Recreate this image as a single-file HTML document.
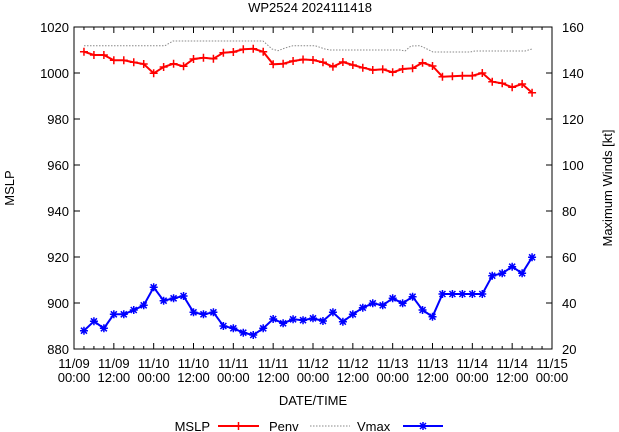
<!DOCTYPE html>
<html><head><meta charset="utf-8"><style>
html,body{margin:0;padding:0;background:#fff;}
svg{display:block;font-family:"Liberation Sans",sans-serif;font-size:13px;}
</style></head><body>
<svg id="s" width="619" height="432" viewBox="0 0 619 432" xmlns="http://www.w3.org/2000/svg">
<rect width="619" height="432" fill="#fff"/>
<text x="310" y="12" text-anchor="middle">WP2524 2024111418</text>
<g id="ax" stroke="#000" fill="none"></g>
<g id="lab"></g>
<text x="313" y="405" text-anchor="middle">DATE/TIME</text>
<text transform="translate(14,188) rotate(-90)" text-anchor="middle">MSLP</text>
<text transform="translate(612,188) rotate(-90)" text-anchor="middle">Maximum Winds [kt]</text>
<polyline id="penv" fill="none" stroke="#888" stroke-width="1" stroke-dasharray="1.5,1.5"/>
<g id="red"></g>
<g id="blue"></g>
<text x="210" y="431" text-anchor="end">MSLP</text>
<line x1="218" y1="426" x2="259" y2="426" stroke="red" stroke-width="2"/>
<path d="M238.5 422v8M234.5 426h8" stroke="red" stroke-width="1.5"/>
<text x="269" y="431">Penv</text>
<line x1="310" y1="426" x2="350" y2="426" stroke="#888" stroke-dasharray="1.5,1.5"/>
<text x="357" y="431">Vmax</text>
<line x1="403" y1="426" x2="443" y2="426" stroke="blue" stroke-width="2"/>
<path d="M420 423l6 6M426 423l-6 6M423 422v8M419 426h8" stroke="blue" stroke-width="1.5"/>
</svg>
<script>
var NS="http://www.w3.org/2000/svg";
function el(p,t,a,txt){var e=document.createElementNS(NS,t);for(var k in a)e.setAttribute(k,a[k]);if(txt!=null)e.textContent=txt;p.appendChild(e);return e;}
var ax=document.getElementById('ax'),lab=document.getElementById('lab');
var L=74,R=552,T=27,B=349;
el(ax,'rect',{x:L,y:T,width:R-L,height:B-T,'stroke-width':1});
for(var i=0;i<=7;i++){var y=B-i*46;
 el(ax,'line',{x1:L,y1:y,x2:L+6,y2:y});el(ax,'line',{x1:R,y1:y,x2:R-6,y2:y});
 el(lab,'text',{x:L-5,y:y+5,'text-anchor':'end'},880+i*20);
 el(lab,'text',{x:R+10,y:y+5},20+i*20);}
var dd=['11/09','11/09','11/10','11/10','11/11','11/11','11/12','11/12','11/13','11/13','11/14','11/14','11/15'];
for(var h=0;h<=144;h+=3){var x=L+(R-L)*h/144;var len=(h%12==0)?6:3;
 el(ax,'line',{x1:x,y1:B,x2:x,y2:B-len});el(ax,'line',{x1:x,y1:T,x2:x,y2:T+len});
 if(h%12==0){var k=h/12;el(lab,'text',{x:x,y:368,'text-anchor':'middle'},dd[k]);
  el(lab,'text',{x:x,y:382,'text-anchor':'middle'},(k%2?'12:00':'00:00'));}}
var ry=[51.7,55,55,60.3,60.3,62.3,64,73.3,67,63.7,66.3,59,57.7,58.7,52.7,52,49.3,48.7,51.7,64.3,63.7,61,59.5,60,62.3,66.7,62,65,67.7,70,69.3,72.3,69,68.3,62.7,66,76.7,76.3,75.7,75.7,73,81.7,83.3,87.3,84,92.7];
var by=[330.7,321.3,328.3,314.3,314.3,310,305.3,287.3,300.7,298.3,296,312.3,314.3,312.3,326,328.3,332.7,335,328.3,319,323.3,319.3,320.2,318.3,321,312.3,321.7,314.3,307.7,303.3,305.3,298.3,303.3,296.7,310,316.7,294,294,294,294,294,275.7,273.3,266.7,273.3,257.3];
function px(i){return L+(R-L)*(3+3*i)/144;}
var rg=document.getElementById('red'),bg=document.getElementById('blue');
var rp=ry.map(function(y,i){return px(i).toFixed(1)+','+y}).join(' ');
var bp=by.map(function(y,i){return px(i).toFixed(1)+','+y}).join(' ');
el(rg,'polyline',{points:rp,fill:'none',stroke:'red','stroke-width':2});
el(bg,'polyline',{points:bp,fill:'none',stroke:'blue','stroke-width':2});
ry.forEach(function(y,i){var x=px(i);el(rg,'path',{d:'M'+x+' '+(y-4)+'v8M'+(x-4)+' '+y+'h8',stroke:'red','stroke-width':1.5});});
by.forEach(function(y,i){var x=px(i);el(bg,'path',{d:'M'+(x-3)+' '+(y-3)+'l6 6M'+(x+3)+' '+(y-3)+'l-6 6M'+x+' '+(y-4)+'v8M'+(x-4)+' '+y+'h8',stroke:'blue','stroke-width':1.5});});
document.getElementById('penv').setAttribute('points','84,45.7 150,45.7 165,45.7 173,41 263,41 272,49 278,50.7 285,48 293,45.7 315,45.7 325,49 330,50 400,50 405,51 411,46 420,45.7 427,49 433,52 470,52 475,51 525,51 532,49');
</script>
</body></html>
